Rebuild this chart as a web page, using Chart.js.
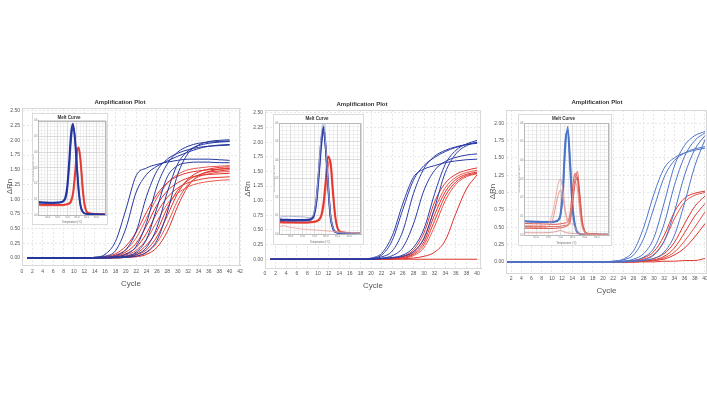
<!DOCTYPE html>
<html>
<head>
<meta charset="utf-8">
<script src="https://cdn.jsdelivr.net/npm/chart.js@4.4.1/dist/chart.umd.min.js"></script>
<style>
body { margin: 0; background: #fff; width: 707px; height: 397px; overflow: hidden; position: relative; }
canvas { position: absolute; }
</style>
</head>
<body>
<canvas id="amp1" width="245" height="200" style="left:0;top:95px"></canvas>
<canvas id="amp2" width="242" height="200" style="left:243px;top:95px"></canvas>
<canvas id="amp3" width="220" height="205" style="left:487px;top:95px"></canvas>
<canvas id="melt1" width="76" height="112" style="left:32px;top:113px"></canvas>
<canvas id="melt2" width="91" height="131" style="left:273px;top:114px"></canvas>
<canvas id="melt3" width="94" height="132" style="left:518px;top:114px"></canvas>
<script>
const cycles = [1,12,14,16,18,20,22,24,26,28,30,32,34,36,38,40];

// plot 1
const amp1Blue = [
  [0,0,0.01,0.06,0.28,0.82,1.4,1.53,1.59,1.63,1.66,1.68,1.68,1.68,1.67,1.66],
  [0,0,0.01,0.03,0.12,0.5,1.12,1.42,1.56,1.65,1.73,1.8,1.86,1.9,1.92,1.93],
  [0,0,0,0.01,0.04,0.14,0.45,1.05,1.48,1.68,1.78,1.84,1.88,1.9,1.91,1.92],
  [0,0,0,0.01,0.02,0.06,0.2,0.6,1.22,1.6,1.8,1.9,1.95,1.97,1.98,1.99],
  [0,0,0,0,0.01,0.03,0.1,0.32,0.85,1.38,1.57,1.62,1.63,1.63,1.62,1.62],
  [0,0,0,0,0.01,0.02,0.06,0.18,0.52,1.12,1.6,1.82,1.91,1.95,1.97,1.98],
  [0,0,0,0,0,0.01,0.03,0.1,0.3,0.78,1.42,1.78,1.92,1.98,2.0,2.01]
];
const amp1Red = [
  [0,0,0.01,0.02,0.07,0.2,0.44,0.78,1.08,1.28,1.39,1.45,1.48,1.5,1.51,1.52],
  [0,0,0,0.01,0.05,0.14,0.34,0.68,1.02,1.27,1.42,1.5,1.53,1.55,1.56,1.57],
  [0,0,0,0.01,0.03,0.1,0.25,0.55,0.9,1.14,1.28,1.36,1.4,1.42,1.43,1.44],
  [0,0,0,0.01,0.02,0.07,0.18,0.42,0.77,1.03,1.19,1.28,1.33,1.36,1.37,1.38],
  [0,0,0,0,0.02,0.05,0.13,0.32,0.62,0.92,1.1,1.21,1.27,1.3,1.32,1.33],
  [0,0,0,0,0.01,0.03,0.08,0.22,0.46,0.85,1.15,1.32,1.41,1.46,1.48,1.5],
  [0,0,0,0,0.01,0.02,0.05,0.14,0.36,0.72,1.1,1.34,1.46,1.51,1.54,1.55],
  [0,0,0,0,0,0.01,0.03,0.09,0.26,0.58,0.98,1.25,1.38,1.43,1.46,1.47],
  [0,0,0,0,0,0.01,0.02,0.06,0.18,0.45,0.88,1.22,1.4,1.47,1.51,1.53]
];

// plot 2
const amp2Blue = [
  [0,0,0,0,0,0.02,0.1,0.4,0.95,1.4,1.54,1.6,1.65,1.68,1.7,1.71],
  [0,0,0,0,0,0.01,0.07,0.32,0.85,1.35,1.6,1.74,1.84,1.91,1.96,2.0],
  [0,0,0,0,0,0.01,0.04,0.14,0.48,1.12,1.55,1.76,1.86,1.92,1.96,1.98],
  [0,0,0,0,0,0,0.02,0.06,0.2,0.6,1.18,1.52,1.67,1.74,1.78,1.8],
  [0,0,0,0,0,0,0.01,0.03,0.07,0.2,0.52,1.12,1.62,1.86,1.97,2.03],
  [0,0,0,0,0,0,0.01,0.02,0.05,0.13,0.36,0.88,1.48,1.8,1.94,2.0]
];
const amp2Red = [
  [0,0,0,0,0,0,0.01,0.02,0.05,0.16,0.45,0.98,1.3,1.45,1.52,1.56],
  [0,0,0,0,0,0,0.01,0.02,0.04,0.12,0.36,0.85,1.22,1.4,1.48,1.52],
  [0,0,0,0,0,0,0,0.01,0.03,0.1,0.3,0.76,1.15,1.36,1.45,1.49],
  [0,0,0,0,0,0,0,0.01,0.03,0.08,0.25,0.66,1.08,1.32,1.43,1.47],
  [0,0,0,0,0,0,0,0.01,0.02,0.06,0.2,0.56,1.0,1.28,1.41,1.46],
  [0,0,0,0,0,0,0,0,0.01,0.02,0.05,0.12,0.32,0.78,1.2,1.44],
  [0,0,0,0,0,0,0,0,0,0,0,0,0,0,0,0]
];

// plot 3
const amp3Blue = [
  [0,0,0,0,0,0,0.01,0.04,0.16,0.5,0.98,1.35,1.5,1.57,1.61,1.64],
  [0,0,0,0,0,0,0.01,0.03,0.1,0.34,0.78,1.22,1.46,1.57,1.63,1.66],
  [0,0,0,0,0,0,0,0.01,0.04,0.12,0.35,0.85,1.38,1.68,1.82,1.88],
  [0,0,0,0,0,0,0,0.01,0.02,0.07,0.2,0.55,1.1,1.52,1.75,1.86],
  [0,0,0,0,0,0,0,0,0.01,0.03,0.1,0.3,0.72,1.25,1.62,1.82],
  [0,0,0,0,0,0,0,0,0.01,0.02,0.05,0.14,0.38,0.85,1.38,1.76]
];
const amp3Red = [
  [0,0,0,0,0,0,0,0.01,0.02,0.06,0.15,0.38,0.72,0.92,0.99,1.02],
  [0,0,0,0,0,0,0,0,0.01,0.04,0.11,0.3,0.62,0.86,0.96,1.0],
  [0,0,0,0,0,0,0,0,0.01,0.02,0.05,0.12,0.28,0.55,0.8,0.95],
  [0,0,0,0,0,0,0,0,0,0.01,0.03,0.08,0.2,0.42,0.66,0.84],
  [0,0,0,0,0,0,0,0,0,0.01,0.02,0.06,0.14,0.3,0.5,0.72],
  [0,0,0,0,0,0,0,0,0,0.01,0.02,0.04,0.1,0.2,0.36,0.55],
  [0,0,0,0,0,0,0,0,0,0,0,0.01,0.01,0.02,0.02,0.05]
];

const xTicks1 = [0,2,4,6,8,10,12,14,16,18,20,22,24,26,28,30,32,34,36,38,40,42];
const xTicks2 = [0,2,4,6,8,10,12,14,16,18,20,22,24,26,28,30,32,34,36,38,40];
const xTicks3 = [2,4,6,8,10,12,14,16,18,20,22,24,26,28,30,32,34,36,38,40];
const yTicks1 = [0,0.25,0.5,0.75,1,1.25,1.5,1.75,2,2.25,2.5];
const yTicks3 = [0,0.25,0.5,0.75,1,1.25,1.5,1.75,2];

// melt curves (inset), temperature in °C
const temps = [60,62,64,66,68,70,72,73,74,75,76,77,78,79,80,81,82,83,84,85,86,88,90,92,95];
const melt1BlueA = [0.085,0.082,0.08,0.079,0.079,0.08,0.083,0.09,0.11,0.18,0.34,0.52,0.58,0.48,0.3,0.14,0.05,0.02,0.01,0.007,0.006,0.005,0.004,0.003,0.003];
const melt1BlueB = [0.078,0.076,0.075,0.075,0.075,0.076,0.079,0.085,0.1,0.15,0.29,0.47,0.56,0.5,0.33,0.16,0.06,0.022,0.011,0.008,0.006,0.005,0.004,0.004,0.003];
const melt1RedA = [0.068,0.066,0.065,0.064,0.064,0.064,0.064,0.065,0.067,0.07,0.075,0.09,0.14,0.26,0.4,0.43,0.32,0.16,0.06,0.022,0.012,0.008,0.007,0.006,0.005];
const melt1RedB = [0.062,0.061,0.06,0.06,0.06,0.06,0.06,0.061,0.063,0.066,0.07,0.08,0.12,0.22,0.36,0.42,0.35,0.19,0.07,0.025,0.013,0.008,0.007,0.006,0.005];

const melt2BlueA = [0.08,0.078,0.077,0.076,0.076,0.076,0.077,0.079,0.085,0.11,0.19,0.34,0.5,0.58,0.46,0.25,0.09,0.03,0.012,0.007,0.005,0.004,0.004,0.003,0.003];
const melt2BlueB = [0.074,0.073,0.072,0.072,0.072,0.072,0.073,0.075,0.08,0.1,0.17,0.31,0.47,0.55,0.45,0.26,0.1,0.035,0.013,0.007,0.005,0.004,0.003,0.003,0.003];
const melt2Pale = [0.09,0.095,0.096,0.095,0.094,0.093,0.09,0.089,0.092,0.12,0.2,0.36,0.53,0.6,0.47,0.26,0.1,0.035,0.013,0.008,0.006,0.005,0.004,0.004,0.003];
const melt2RedA = [0.066,0.065,0.064,0.064,0.063,0.063,0.063,0.064,0.065,0.067,0.07,0.078,0.1,0.17,0.3,0.42,0.38,0.22,0.09,0.03,0.014,0.008,0.006,0.005,0.004];
const melt2RedB = [0.061,0.06,0.06,0.06,0.06,0.06,0.06,0.061,0.062,0.064,0.067,0.073,0.09,0.14,0.25,0.37,0.4,0.26,0.11,0.035,0.015,0.008,0.006,0.005,0.004];
const melt2Neg = [0.04,0.045,0.038,0.034,0.03,0.027,0.025,0.024,0.023,0.022,0.021,0.02,0.019,0.018,0.017,0.016,0.015,0.014,0.013,0.012,0.011,0.01,0.009,0.008,0.007];

const melt3BlueA = [0.075,0.073,0.072,0.071,0.07,0.07,0.071,0.073,0.08,0.11,0.25,0.5,0.56,0.36,0.14,0.045,0.015,0.006,0.004,0.003,0.003,0.002,0.002,0.002,0.002];
const melt3BlueB = [0.072,0.071,0.07,0.069,0.069,0.069,0.07,0.072,0.077,0.1,0.21,0.46,0.58,0.4,0.17,0.055,0.017,0.007,0.004,0.003,0.003,0.002,0.002,0.002,0.002];
const melt3RedA = [0.062,0.061,0.06,0.06,0.059,0.058,0.057,0.057,0.058,0.06,0.062,0.065,0.07,0.12,0.25,0.33,0.3,0.15,0.05,0.015,0.008,0.005,0.004,0.003,0.003];
const melt3RedB = [0.046,0.046,0.045,0.045,0.045,0.045,0.045,0.045,0.046,0.047,0.05,0.052,0.055,0.09,0.19,0.3,0.34,0.2,0.07,0.02,0.01,0.006,0.004,0.003,0.003];
const melt3RedC = [0.036,0.036,0.035,0.035,0.035,0.035,0.035,0.036,0.037,0.038,0.04,0.045,0.05,0.07,0.16,0.27,0.31,0.22,0.08,0.025,0.01,0.006,0.004,0.003,0.003];
const melt3RedD = [0.052,0.051,0.05,0.05,0.052,0.06,0.13,0.2,0.27,0.3,0.24,0.14,0.08,0.06,0.06,0.04,0.02,0.01,0.006,0.004,0.003,0.003,0.002,0.002,0.002];
const melt3RedE = [0.042,0.041,0.04,0.04,0.041,0.045,0.09,0.15,0.21,0.24,0.2,0.12,0.07,0.1,0.2,0.28,0.25,0.12,0.04,0.015,0.008,0.005,0.004,0.003,0.003];
const melt3RedF = [0.013,0.012,0.012,0.012,0.012,0.013,0.015,0.018,0.022,0.025,0.02,0.014,0.011,0.01,0.009,0.008,0.007,0.006,0.005,0.005,0.004,0.004,0.003,0.003,0.003];

const FONT = 'Liberation Sans';
Chart.defaults.font.family = FONT;

// white card behind insets, thin box round the plot area
const frame = {
  id: 'frame',
  beforeDraw(chart, args, o) {
    if (!o.card) return;
    const ctx = chart.ctx;
    ctx.save();
    ctx.fillStyle = '#fff';
    ctx.fillRect(0, 0, chart.width, chart.height);
    ctx.strokeStyle = '#dcdcdc';
    ctx.lineWidth = 1;
    ctx.strokeRect(0.5, 0.5, chart.width - 1, chart.height - 1);
    ctx.restore();
  },
  afterDraw(chart, args, o) {
    const {ctx, chartArea: a} = chart;
    ctx.save();
    ctx.strokeStyle = o.edge || '#d4d4d4';
    ctx.lineWidth = 1;
    ctx.strokeRect(Math.round(a.left) + 0.5, Math.round(a.top) + 0.5, Math.round(a.right - a.left) - 1, Math.round(a.bottom - a.top));
    ctx.restore();
  }
};

function curve(xs, vals, color, width) {
  return {
    data: vals.map((v, i) => ({x: xs[i], y: v})),
    borderColor: color,
    borderWidth: width,
    pointRadius: 0,
    fill: false,
    cubicInterpolationMode: 'monotone'
  };
}

function ampChart(id, o) {
  const sets = [];
  o.blue.forEach(v => sets.push(curve(cycles, v, o.blueCol, 1)));
  o.red.forEach((v, i) => sets.push(curve(cycles, v, o.redCols[i % o.redCols.length], 1)));
  new Chart(document.getElementById(id), {
    type: 'line',
    data: {datasets: sets},
    options: {
      responsive: false,
      animation: false,
      events: [],
      layout: {padding: {left: 0, right: o.padRight, top: 0, bottom: 0}},
      plugins: {
        legend: {display: false},
        tooltip: {enabled: false},
        title: {display: true, text: 'Amplification Plot', color: '#333', font: {size: 6}, padding: o.titlePad},
        frame: {edge: '#d8d8d8'}
      },
      scales: {
        x: {
          type: 'linear', min: o.xMin, max: o.xMax,
          afterBuildTicks: s => { s.ticks = o.xTicks.map(v => ({value: v})); },
          afterFit: s => { s.height = o.xH; s.paddingLeft = 0; s.paddingRight = 0; },
          ticks: {autoSkip: false, maxRotation: 0, font: {size: 5}, color: '#555', padding: o.xPad, callback: v => String(v)},
          grid: {drawTicks: false, color: '#e6e6e6'},
          border: {color: '#bdbdbd', dash: [2, 2]},
          title: {display: true, text: 'Cycle', color: '#555', font: {size: 8}, padding: {top: 0, bottom: o.cyclePad}}
        },
        y: {
          min: o.yMin, max: o.yMax,
          afterBuildTicks: s => { s.ticks = o.yTicks.map(v => ({value: v})); },
          afterFit: s => { s.width = o.yW; s.paddingTop = 0; s.paddingBottom = 0; },
          ticks: {font: {size: 5}, color: '#555', padding: 2, callback: v => v.toFixed(2)},
          grid: {drawTicks: false, color: '#e6e6e6'},
          border: {color: '#bdbdbd', dash: [2, 2]},
          title: {display: true, text: 'ΔRn', color: '#555', font: {size: 8}, padding: {top: o.rnPad, bottom: 0}}
        }
      }
    },
    plugins: [frame]
  });
}

const meltXTicks = [];
for (let k = 0; k <= 21; k++) meltXTicks.push(60 + k * 5 / 3);
const meltYTicks = [];
for (let k = 0; k <= 30; k++) meltYTicks.push(k * 0.02);

function meltChart(id, lines, o) {
  new Chart(document.getElementById(id), {
    type: 'line',
    data: {datasets: lines.map(l => curve(temps, l[0], l[1], l[2]))},
    options: {
      responsive: false,
      animation: false,
      events: [],
      layout: {padding: {left: 0, right: o.padRight, top: 0, bottom: 0}},
      plugins: {
        legend: {display: false},
        tooltip: {enabled: false},
        title: {display: true, text: 'Melt Curve', color: '#333', font: {size: 4.5, weight: 'bold'}, padding: o.titlePad},
        frame: {card: true, edge: '#b8b8b8'}
      },
      scales: {
        x: {
          type: 'linear', min: 60, max: 95,
          afterBuildTicks: s => { s.ticks = meltXTicks.map(v => ({value: v})); },
          afterFit: s => { s.height = o.xH; s.paddingLeft = 0; s.paddingRight = 0; },
          ticks: {autoSkip: false, maxRotation: 0, font: {size: 2.6}, color: '#777', padding: 1,
            callback: (v, i) => (i % 3 === 0 && v > 62 && v < 93) ? v.toFixed(1) : ''},
          grid: {drawTicks: false, lineWidth: 0.7, color: c => c.index % 3 === 0 ? '#cdcdcd' : '#e9e9e9'},
          border: {color: '#a8a8a8'},
          title: {display: true, text: 'Temperature (°C)', color: '#666', font: {size: 2.6}, padding: {top: 0, bottom: 1}}
        },
        y: {
          min: 0, max: 0.6,
          afterBuildTicks: s => { s.ticks = meltYTicks.map(v => ({value: v})); },
          afterFit: s => { s.width = o.yW; s.paddingTop = 0; s.paddingBottom = 0; },
          ticks: {autoSkip: false, font: {size: 2.6}, color: '#777', padding: 0.5,
            callback: (v, i) => i % 5 === 0 ? v.toFixed(1) : ''},
          grid: {drawTicks: false, lineWidth: 0.7, color: c => c.index % 5 === 0 ? '#cdcdcd' : '#e9e9e9'},
          border: {color: '#a8a8a8'},
          title: {display: true, text: "Derivative Reporter (-Rn')", color: '#777', font: {size: 2.4}, padding: 0}
        }
      }
    },
    plugins: [frame]
  });
}

ampChart('amp1', {
  blue: amp1Blue, red: amp1Red, blueCol: '#25379e', redCols: ['#e2342c', '#e9574f', '#df2f28'],
  xMin: 0, xMax: 42, xTicks: xTicks1, yMin: -0.12, yMax: 2.55, yTicks: yTicks1,
  padRight: 5, yW: 22, xH: 30, xPad: 4, cyclePad: 6, rnPad: 5, titlePad: {top: 3.4, bottom: 2.4}
});
ampChart('amp2', {
  blue: amp2Blue, red: amp2Red, blueCol: '#2a3ba6', redCols: ['#e2362e', '#e8514a', '#e0302a'],
  xMin: 0, xMax: 40.75, xTicks: xTicks2, yMin: -0.15, yMax: 2.55, yTicks: yTicks1,
  padRight: 4, yW: 22, xH: 27, xPad: 3, cyclePad: 4, rnPad: 0, titlePad: {top: 5.4, bottom: 2.4}
});
ampChart('amp3', {
  blue: amp3Blue, red: amp3Red, blueCol: '#4c74c8', redCols: ['#e0392f', '#e65047', '#de3128'],
  xMin: 1, xMax: 40.4, xTicks: xTicks3, yMin: -0.16, yMax: 2.19, yTicks: yTicks3,
  padRight: 0, yW: 19, xH: 27, xPad: 3, cyclePad: 4, rnPad: 1, titlePad: {top: 3.4, bottom: 4.4}
});

meltChart('melt1', [
  [melt1BlueA, '#23359c', 1.8], [melt1BlueB, '#3a4bb0', 1.6],
  [melt1RedA, '#e23a32', 1.8], [melt1RedB, '#ec7a72', 1.6]
], {padRight: 2, yW: 6, xH: 10, titlePad: {top: 2.2, bottom: 0}});
meltChart('melt2', [
  [melt2Neg, '#e8a09a', 0.8], [melt2Pale, '#a9b0d6', 0.9],
  [melt2BlueA, '#26389f', 1.8], [melt2BlueB, '#4050b4', 1.6],
  [melt2RedA, '#e2362e', 1.8], [melt2RedB, '#ec7069', 1.5]
], {padRight: 3, yW: 6, xH: 11, titlePad: {top: 1.6, bottom: 2}});
meltChart('melt3', [
  [melt3RedF, '#d98a84', 0.8], [melt3RedD, '#eaa49f', 0.9], [melt3RedE, '#e58e87', 0.9],
  [melt3RedA, '#d9463d', 0.9], [melt3RedB, '#e0564d', 0.9], [melt3RedC, '#cf4a40', 0.9],
  [melt3BlueA, '#4c74c8', 1.8], [melt3BlueB, '#5d83cf', 1.6]
], {padRight: 3, yW: 6, xH: 11, titlePad: {top: 2.3, bottom: 1.3}});
</script>
</body>
</html>
